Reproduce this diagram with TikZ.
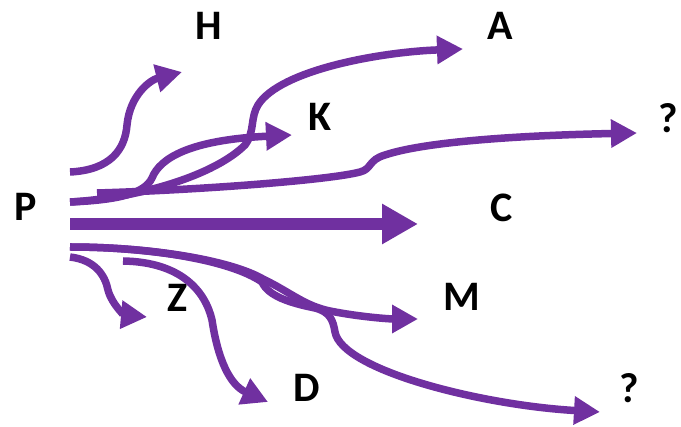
\documentclass[tikz,border=0pt]{standalone}
\usepackage{fontspec}
\setmainfont{Carlito}
\usepackage{tikz}
\usetikzlibrary{arrows.meta}
\definecolor{purple}{HTML}{7030A0}

\begin{document}
\begin{tikzpicture}[x=1pt,y=-1pt,
  flow/.style={purple,line width=7.5pt,-{Triangle[length=26pt,width=27pt]}},
  lbl/.style={font=\fontsize{42}{42}\selectfont\bfseries,inner sep=0pt}]
  \useasboundingbox (0,0) rectangle (681,427);
  \foreach \n/\t/\x/\y in {P/P/26/207, H/H/209/26, A/A/500/26, K/K/320/117,
    q1/?/668/118, C/C/502/208, M/M/462/297, Z/Z/178/298, D/D/307/388, q2/?/629/388}
    \node[lbl] (\n) at (\x,\y) {\t};
  % starts and ends
  \coordinate (h0) at (70,172);  \coordinate (h1) at (182,72);
  \coordinate (k0) at (70,202);  \coordinate (k1) at (292,135);
  \coordinate (a1) at (463,49);
  \coordinate (t0) at (97,193);  \coordinate (t1) at (637,133);
  \coordinate (c0) at (70,224);  \coordinate (c1) at (418,224);
  \coordinate (m0) at (70,247);  \coordinate (m1) at (418,319);
  \coordinate (b1) at (600,412);
  \coordinate (z0) at (70,257);  \coordinate (z1) at (147,317);
  \coordinate (d0) at (123,261); \coordinate (d1) at (268,402);
  % upper flows
  \draw[flow] (h0) .. controls (110,170) and (125,150) .. (127,125)
    .. controls (130,95) and (150,80) .. (h1);
  \draw[flow] (k0) .. controls (120,200) and (145,193) .. (152,178)
    .. controls (160,158) and (190,140) .. (k1);
  \draw[flow] (k0) .. controls (140,198) and (215,175) .. (245,145)
    .. controls (255,132) and (250,118) .. (258,105)
    .. controls (280,70) and (380,52) .. (a1);
  \draw[flow] (t0) .. controls (200,190) and (330,180) .. (360,172)
    .. controls (372,169) and (368,160) .. (385,155)
    .. controls (430,140) and (540,135) .. (t1);
  \draw[flow, line width=12.5pt, -{Triangle[length=36pt,width=38pt]}] (c0) -- (c1);
  % lower flows
  \draw[flow] (m0) .. controls (150,247) and (230,260) .. (263,279)
    .. controls (290,292) and (305,306) .. (330,311)
    .. controls (360,317) and (390,319) .. (m1);
  \draw[flow] (m0) .. controls (150,247) and (230,260) .. (262,282)
    .. controls (268,296) and (290,303) .. (315,308)
    .. controls (330,312) and (333,320) .. (335,332)
    .. controls (342,370) and (480,405) .. (b1);
  \draw[flow] (z0) .. controls (95,260) and (105,275) .. (108,290)
    .. controls (112,305) and (125,315) .. (z1);
  \draw[flow] (d0) .. controls (180,262) and (205,290) .. (212,320)
    .. controls (218,360) and (230,385) .. (d1);
\end{tikzpicture}
\end{document}
